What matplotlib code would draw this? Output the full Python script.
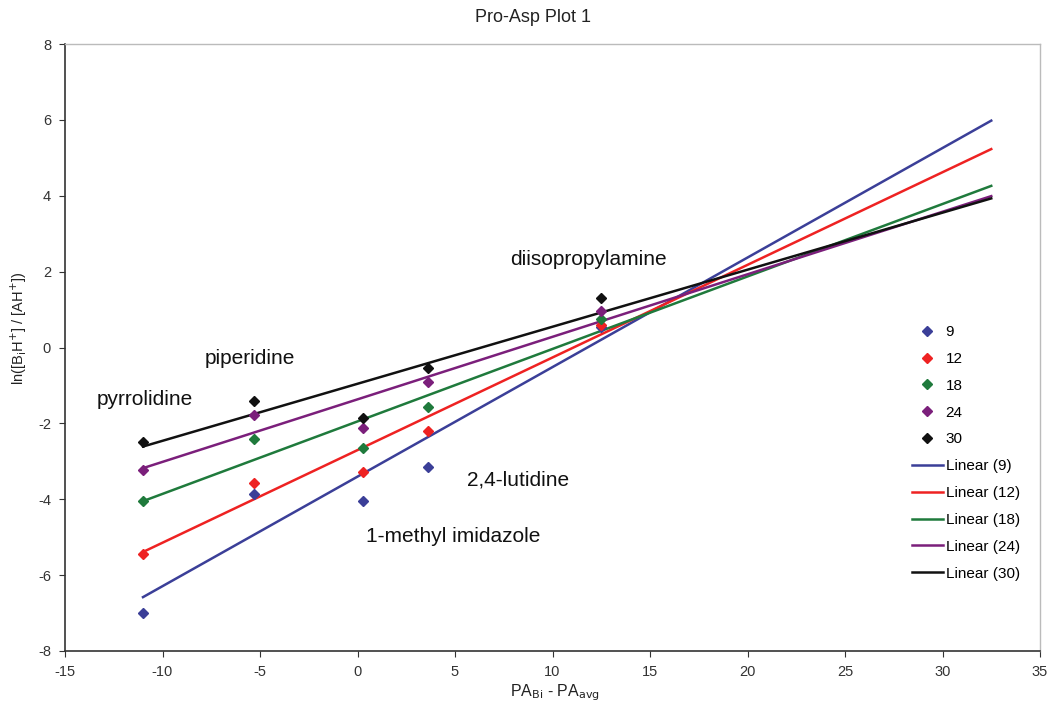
import matplotlib
matplotlib.use("Agg")
import matplotlib.pyplot as plt
import numpy as np

plt.rcParams['font.family'] = ['Liberation Sans', 'DejaVu Sans']
plt.rcParams['axes.unicode_minus'] = False

# Data
x_pa = [-11.0, -5.3, 0.3, 3.6, 12.5]
series_names = ["9", "12", "18", "24", "30"]
y_9 = [-7.0, -3.85, -4.04, -3.14, 0.55]
y_12 = [-5.44, -3.56, -3.27, -2.19, 0.6]
y_18 = [-4.05, -2.40, -2.64, -1.58, 0.74]
y_24 = [-3.22, -1.79, -2.11, -0.90, 0.95]
y_30 = [-2.50, -1.42, -1.85, -0.55, 1.30]
# trendlines: value at x=-11 and x=32.5
trend_x = [-11.0, 32.5]
trend_left = [-6.58, -5.39, -4.05, -3.18, -2.61]
trend_right = [5.98, 5.23, 4.26, 3.99, 3.93]
colors = ["#3b3f98", "#ee2222", "#1f7a3c", "#7b1f7b", "#111111"]

labels_text = ["pyrrolidine", "piperidine", "diisopropylamine", "2,4-lutidine", "1-methyl imidazole"]
labels_x = [-13.36, -7.82, 7.82, 5.62, 0.44]
labels_y = [-1.38, -0.28, 2.33, -3.49, -4.97]

fig = plt.figure(figsize=(10.5, 7.04), dpi=100)
ax = fig.add_axes([65/1050, 1-651/704, 975/1050, 607/704])

ys = [y_9, y_12, y_18, y_24, y_30]
handles_pts = []
handles_lines = []
for name, yv, c in zip(series_names, ys, colors):
    h, = ax.plot(x_pa, yv, linestyle='none', marker='D', markersize=5, color=c, label=name, zorder=3)
    handles_pts.append(h)
for name, l, r, c in zip(series_names, trend_left, trend_right, colors):
    h, = ax.plot(trend_x, [l, r], color=c, linewidth=1.8, label=f"Linear ({name})", zorder=2)
    handles_lines.append(h)

for t, lx, ly in zip(labels_text, labels_x, labels_y):
    ax.text(lx, ly, t, fontsize=15, ha='left', va='center', color='#111111')

ax.set_xlim(-15, 35)
ax.set_ylim(-8, 8)
ax.set_xticks(np.arange(-15, 36, 5))
ax.set_yticks(np.arange(-8, 9, 2))
ax.tick_params(direction='out', length=4, labelsize=10.5, colors='#333333', pad=6)
for s in ['left', 'bottom']:
    ax.spines[s].set_color('#333333')
    ax.spines[s].set_linewidth(1.2)
for s in ['top', 'right']:
    ax.spines[s].set_color('#bbbbbb')
    ax.spines[s].set_linewidth(1.0)

fig.text(533/1050, 1-17/704, "Pro-Asp Plot 1", fontsize=13, ha='center', va='center', color='#222222')
fig.text(555/1050, 1-693/704, "PA$_{\\mathrm{Bi}}$ - PA$_{\\mathrm{avg}}$", fontsize=11.5,
         ha='center', va='center', color='#222222')
fig.text(19/1050, 1-328/704, "ln([B$_{\\mathrm{i}}$H$^{+}$] / [AH$^{+}$])", fontsize=10.5,
         ha='center', va='center', rotation=90, color='#222222')

ax.legend(handles=handles_pts + handles_lines, loc='upper left',
          bbox_to_anchor=(906/1050, 1-319/704), bbox_transform=fig.transFigure,
          frameon=False, fontsize=11, handlelength=2.0, handletextpad=0.2,
          labelspacing=0.84, borderaxespad=0)

fig.savefig("out.png", dpi=100)
